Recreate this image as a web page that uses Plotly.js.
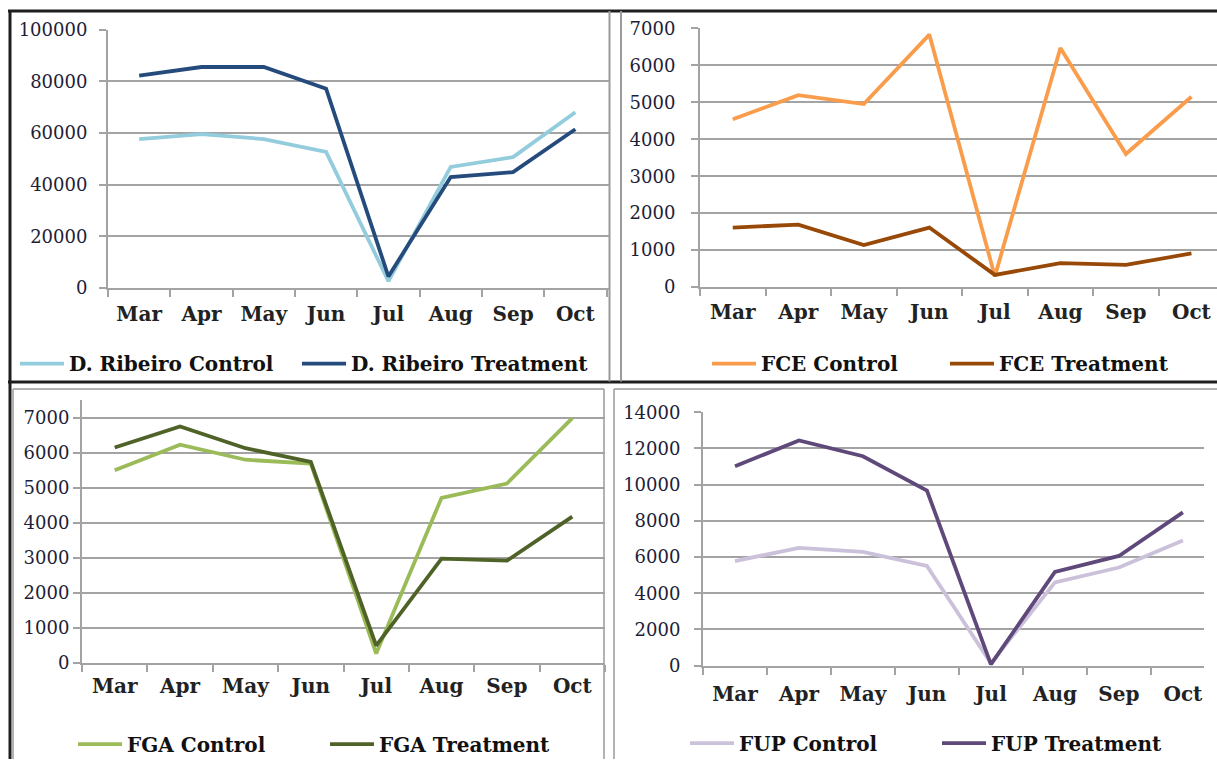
<!DOCTYPE html>
<html>
<head>
<meta charset="utf-8">
<script src="https://cdn.plot.ly/plotly-3.0.1.min.js"></script>
<style>html,body{margin:0;padding:0;background:#fff;}#chart{width:1217px;height:764px;}</style>
</head>
<body>
<div id="chart"></div>
<script>
// ---- data ----
const months = ['Mar', 'Apr', 'May', 'Jun', 'Jul', 'Aug', 'Sep', 'Oct'];

const ribeiroNames = ['D. Ribeiro Control', 'D. Ribeiro Treatment'];
const ribeiroControl = [57700, 59600, 57700, 52700, 2700, 46900, 50700, 68100];
const ribeiroTreatment = [82300, 85600, 85600, 77200, 4500, 43000, 44900, 61500];

const fceNames = ['FCE Control', 'FCE Treatment'];
const fceControl = [4540, 5190, 4950, 6830, 290, 6470, 3600, 5150];
const fceTreatment = [1610, 1690, 1140, 1610, 330, 650, 600, 910];

const fgaNames = ['FGA Control', 'FGA Treatment'];
const fgaControl = [5510, 6240, 5810, 5700, 260, 4720, 5130, 7000];
const fgaTreatment = [6160, 6760, 6140, 5750, 490, 2980, 2920, 4180];

const fupNames = ['FUP Control', 'FUP Treatment'];
const fupControl = [5780, 6510, 6280, 5510, 130, 4600, 5420, 6920];
const fupTreatment = [11020, 12440, 11570, 9670, 70, 5180, 6060, 8470];

// ---- layout helpers (pixel -> paper) ----
const W = 1217, H = 764;
const px = v => v / W;
const py = v => 1 - v / H;

const GRID = '#a3a3a3';
const SERIF = 'DejaVu Serif, Liberation Serif, serif';

function tr(y, name, color, ax, leg) {
  return {
    x: months, y: y, name: name, type: 'scatter', mode: 'lines',
    line: {color: color, width: 3.8},
    xaxis: 'x' + ax, yaxis: 'y' + ax, legend: leg, hoverinfo: 'skip'
  };
}

const data = [
  tr(ribeiroControl, ribeiroNames[0], '#93cddd', '', 'legend'),
  tr(ribeiroTreatment, ribeiroNames[1], '#254b7d', '', 'legend2'),
  tr(fceControl, fceNames[0], '#f99d4c', '2', 'legend3'),
  tr(fceTreatment, fceNames[1], '#984807', '2', 'legend4'),
  tr(fgaControl, fgaNames[0], '#9bbb59', '3', 'legend5'),
  tr(fgaTreatment, fgaNames[1], '#4f6228', '3', 'legend6'),
  tr(fupControl, fupNames[0], '#ccc1da', '4', 'legend7'),
  tr(fupTreatment, fupNames[1], '#5f497a', '4', 'legend8')
];

function xax(x0, x1, yName, hi, standoff) {
  return {
    type: 'category', domain: [px(x0), px(x1)], anchor: yName,
    range: [-0.5, hi], showgrid: false, zeroline: false,
    showline: true, linecolor: GRID, linewidth: 2,
    ticks: 'outside', tickson: 'boundaries', ticklen: 7, tickwidth: 2, tickcolor: GRID,
    ticklabelstandoff: standoff,
    tickfont: {family: SERIF, size: 20, weight: 'bold', color: '#222'},
    fixedrange: true
  };
}
function yax(yTop, yBot, xName, max, dtick, standoff) {
  return {
    domain: [py(yBot), py(yTop)], anchor: xName,
    range: [0, max], dtick: dtick, tick0: 0, tickformat: 'd',
    showgrid: true, gridcolor: GRID, gridwidth: 2, zeroline: false,
    showline: true, linecolor: GRID, linewidth: 2,
    ticks: 'outside', ticklen: 7, tickwidth: 2, tickcolor: GRID,
    ticklabelstandoff: standoff,
    tickfont: {family: SERIF, size: 18, color: '#1e1e38'},
    fixedrange: true
  };
}
function leg(x, y) {
  return {
    x: px(x), y: py(y), xanchor: 'left', yanchor: 'middle',
    orientation: 'h', bgcolor: 'rgba(0,0,0,0)', borderwidth: 0,
    itemwidth: 44,
    font: {family: SERIF, size: 20, weight: 'bold', color: '#111'}
  };
}

function line(x0, y0, x1, y1, color, width) {
  return {type: 'line', xref: 'paper', yref: 'paper',
    x0: px(x0), y0: py(y0), x1: px(x1), y1: py(y1),
    line: {color: color, width: width}, layer: 'below'};
}

const layout = {
  width: W, height: H, margin: {l: 0, r: 0, t: 0, b: 0},
  paper_bgcolor: '#fff', plot_bgcolor: 'rgba(0,0,0,0)',
  showlegend: true,
  xaxis: xax(108, 609, 'y', 7.54, 7),
  yaxis: yax(30, 290, 'x', 100000, 20000, 8),
  xaxis2: xax(700, 1217, 'y2', 7.39, 6),
  yaxis2: yax(28.5, 289, 'x2', 7000, 1000, 12),
  xaxis3: xax(82, 605, 'y3', 7.5, 4),
  yaxis3: yax(403, 667, 'x3', 7510, 1000, 0),
  xaxis4: xax(703, 1204, 'y4', 7.33, 9),
  yaxis4: yax(415, 670, 'x4', 14000, 2000, 10),
  legend: leg(15, 366),
  legend2: leg(297, 366),
  legend3: leg(707, 366),
  legend4: leg(945, 366),
  legend5: leg(73, 749),
  legend6: leg(325, 749),
  legend7: leg(685, 748),
  legend8: leg(937, 748),
  shapes: [
    line(8, 11, 1217, 11, '#1e1e1e', 3),
    line(10, 11, 10, 764, '#1e1e1e', 3),
    line(8, 384.5, 1217, 384.5, '#1e1e1e', 3),
    line(609.5, 11, 609.5, 384, '#9a9a9a', 2),
    line(621, 11, 621, 384, '#9a9a9a', 2),
    line(13, 391.5, 604, 391.5, '#9a9a9a', 1.5),
    line(13, 391.5, 13, 764, '#9a9a9a', 1.5),
    line(604, 391.5, 604, 764, '#9a9a9a', 1.5),
    line(614, 391.5, 1217, 391.5, '#9a9a9a', 1.5),
    line(614, 391.5, 614, 764, '#9a9a9a', 1.5)
  ]
};

Plotly.newPlot('chart', data, layout, {displayModeBar: false, staticPlot: true});
</script>
</body>
</html>
